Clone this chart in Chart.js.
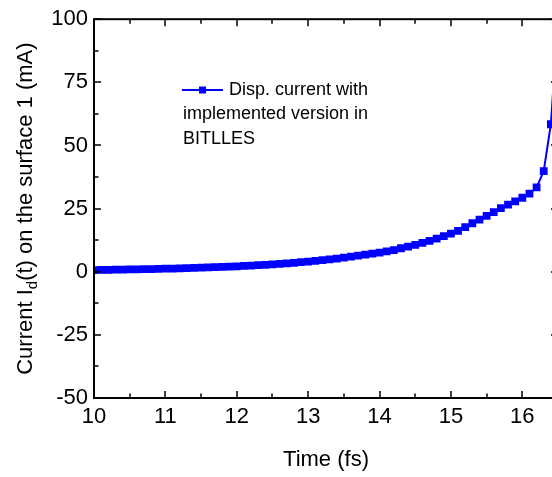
<!DOCTYPE html>
<html>
<head>
<meta charset="utf-8">
<script src="https://cdn.jsdelivr.net/npm/chart.js@4"></script>
<style>
  html, body { margin: 0; padding: 0; background: #fff; overflow: hidden; }
  #wrap { width: 560px; height: 477px; }
</style>
</head>
<body>
<div id="wrap"><canvas id="chart" width="560" height="477"></canvas></div>
<script>
// Time (fs) and displacement current (mA)
const times = [
  10.0, 10.1, 10.2, 10.3, 10.4, 10.5, 10.6, 10.7, 10.8, 10.9,
  11.0, 11.1, 11.2, 11.3, 11.4, 11.5, 11.6, 11.7, 11.8, 11.9,
  12.0, 12.1, 12.2, 12.3, 12.4, 12.5, 12.6, 12.7, 12.8, 12.9,
  13.0, 13.1, 13.2, 13.3, 13.4, 13.5, 13.6, 13.7, 13.8, 13.9,
  14.0, 14.1, 14.2, 14.3, 14.4, 14.5, 14.6, 14.7, 14.8, 14.9,
  15.0, 15.1, 15.2, 15.3, 15.4, 15.5, 15.6, 15.7, 15.8, 15.9,
  16.0, 16.1, 16.2, 16.3, 16.4, 16.5
];
const current = [
  0.6, 0.7, 0.7, 0.8, 0.8, 0.9, 0.9, 1.0, 1.0, 1.1,
  1.2, 1.2, 1.3, 1.4, 1.5, 1.6, 1.7, 1.8, 1.9, 2.0,
  2.1, 2.3, 2.4, 2.6, 2.7, 2.9, 3.1, 3.3, 3.5, 3.8,
  4.0, 4.3, 4.6, 4.9, 5.2, 5.6, 6.0, 6.4, 6.8, 7.2,
  7.6, 8.1, 8.6, 9.3, 9.9, 10.6, 11.4, 12.2, 13.1, 14.1,
  15.1, 16.2, 17.7, 19.2, 20.6, 22.1, 23.6, 25.2, 26.6, 27.9,
  29.3, 30.9, 33.4, 39.8, 58.4, 100
];
const xTickValues = [10, 11, 12, 13, 14, 15, 16];
const yTickValues = [-50, -25, 0, 25, 50, 75, 100];
const legendLines = ['Disp. current with', 'implemented version in', 'BITLLES'];
const xTitle = 'Time (fs)';
const yTitleParts = ['Current I', 'd', '(t) on the surface 1 (mA)'];

const FONT = 'Arial, "Liberation Sans", sans-serif';

// box, inward ticks on all four sides, legend and y title with subscript
const framePlugin = {
  id: 'frame',
  afterDraw(chart) {
    const { ctx, chartArea: a, scales } = chart;
    const xs = scales.x, ys = scales.y;
    ctx.save();
    ctx.strokeStyle = '#000';
    ctx.lineWidth = 2;
    ctx.strokeRect(a.left, a.top, a.right - a.left, a.bottom - a.top);

    ctx.lineWidth = 1.5;
    ctx.beginPath();
    for (let v = 10; v <= 16.5; v += 0.5) {
      const px = Math.round(xs.getPixelForValue(v));
      const len = Number.isInteger(v) ? 7 : 4.5;
      ctx.moveTo(px, a.bottom); ctx.lineTo(px, a.bottom - len);
      ctx.moveTo(px, a.top); ctx.lineTo(px, a.top + len);
    }
    for (let v = -50; v <= 100; v += 12.5) {
      const py = Math.round(ys.getPixelForValue(v));
      const len = (v % 25 === 0) ? 7 : 4.5;
      ctx.moveTo(a.left, py); ctx.lineTo(a.left + len, py);
      ctx.moveTo(a.right, py); ctx.lineTo(a.right - len, py);
    }
    ctx.stroke();

    // legend
    const lx = 182, ly = 90;
    ctx.strokeStyle = '#0000ff';
    ctx.lineWidth = 2;
    ctx.beginPath();
    ctx.moveTo(lx, ly); ctx.lineTo(lx + 41, ly);
    ctx.stroke();
    ctx.fillStyle = '#0000ff';
    ctx.fillRect(lx + 17, ly - 3.5, 7, 7);
    ctx.fillStyle = '#000';
    ctx.font = '18px ' + FONT;
    ctx.textBaseline = 'middle';
    ctx.textAlign = 'left';
    ctx.fillText(legendLines[0], lx + 47, ly);
    ctx.fillText(legendLines[1], lx + 1, ly + 24);
    ctx.fillText(legendLines[2], lx + 1, ly + 49);

    // y axis title
    const big = '22px ' + FONT, small = '15px ' + FONT;
    ctx.font = big;
    const w0 = ctx.measureText(yTitleParts[0]).width;
    const w2 = ctx.measureText(yTitleParts[2]).width;
    ctx.font = small;
    const w1 = ctx.measureText(yTitleParts[1]).width;
    const total = w0 + w1 + w2;
    ctx.translate(26, (a.top + a.bottom) / 2);
    ctx.rotate(-Math.PI / 2);
    ctx.textBaseline = 'middle';
    let x = -total / 2;
    ctx.font = big;
    ctx.fillText(yTitleParts[0], x, 0); x += w0;
    ctx.font = small;
    ctx.fillText(yTitleParts[1], x, 7); x += w1;
    ctx.font = big;
    ctx.fillText(yTitleParts[2], x, 0);
    ctx.restore();
  }
};

new Chart(document.getElementById('chart'), {
  type: 'line',
  data: {
    datasets: [{
      label: legendLines.join(' '),
      data: times.map((t, i) => ({ x: t, y: current[i] })),
      borderColor: '#0000ff',
      backgroundColor: '#0000ff',
      borderWidth: 2,
      pointStyle: 'rect',
      pointRadius: 5.5,
      pointBorderWidth: 0,
      tension: 0
    }]
  },
  options: {
    responsive: false,
    animation: false,
    layout: { autoPadding: false, padding: { top: 18, right: 2, left: 0, bottom: 0 } },
    plugins: { legend: { display: false }, tooltip: { enabled: false } },
    scales: {
      x: {
        type: 'linear',
        min: 10,
        max: 16.5,
        grid: { display: false, drawTicks: false },
        border: { display: false },
        ticks: {
          padding: 6,
          autoSkip: false,
          color: '#000',
          font: { family: FONT, size: 22 },
          maxRotation: 0
        },
        afterBuildTicks: s => { s.ticks = xTickValues.map(v => ({ value: v })); },
        title: { display: true, text: xTitle, color: '#000', font: { family: FONT, size: 22 }, padding: { top: 8 } },
        afterFit: s => { s.height = 79; }
      },
      y: {
        type: 'linear',
        min: -50,
        max: 100,
        grid: { display: false, drawTicks: false },
        border: { display: false },
        ticks: {
          padding: 6,
          autoSkip: false,
          color: '#000',
          font: { family: FONT, size: 22 }
        },
        afterBuildTicks: s => { s.ticks = yTickValues.map(v => ({ value: v })); },
        afterFit: s => { s.width = 94; }
      }
    }
  },
  plugins: [framePlugin]
});
</script>
</body>
</html>
